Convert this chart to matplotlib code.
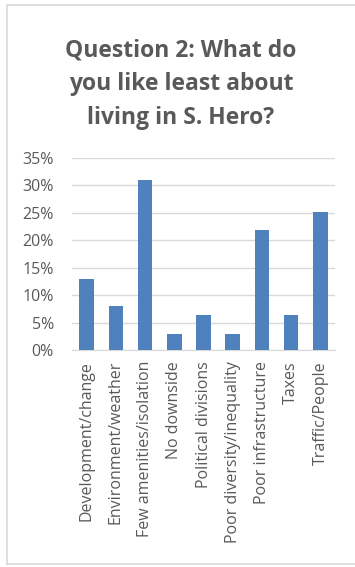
import numpy as np
import matplotlib
matplotlib.use('Agg')
from matplotlib import pyplot as plt
from matplotlib.lines import Line2D

# Survey answers (share of respondents, %)
categories = ['Development/change', 'Environment/weather', 'Few amenities/isolation',
              'No downside', 'Political divisions', 'Poor diversity/inequality',
              'Poor infrastructure', 'Taxes', 'Traffic/People']
values = [12.9, 8.1, 30.9, 3.0, 6.3, 3.0, 21.8, 6.3, 25.1]
yticks = [0, 5, 10, 15, 20, 25, 30, 35]

W, H = 355, 567
fig = plt.figure(figsize=(W/100, H/100), dpi=100)
plt.rcParams['font.family'] = ['Open Sans', 'DejaVu Sans']

# chart frame (light gray, left/top/bottom)
fc = '#d9d9d9'
fig.add_artist(Line2D([7/W, 7/W], [1-5/H, 1-564/H], color=fc, lw=1.2, transform=fig.transFigure))
fig.add_artist(Line2D([7/W, 1], [1-5/H, 1-5/H], color=fc, lw=1.2, transform=fig.transFigure))
fig.add_artist(Line2D([7/W, 1], [1-564/H, 1-564/H], color=fc, lw=1.2, transform=fig.transFigure))

ax = fig.add_axes([72/W, 1-350/H, (335-72)/W, (350-158)/H])
x = np.arange(len(categories))
ax.bar(x, values, width=0.5, color='#4f81bd', zorder=3)

ax.set_ylim(0, 35)
ax.set_xlim(-0.5, len(categories)-0.5)
ax.set_yticks(yticks)
ax.set_yticklabels(['%d%%' % v for v in yticks], color='#595959', fontsize=11.5)
ax.set_xticks(x)
ax.set_xticklabels(categories, rotation=90, color='#595959', fontsize=11.5)
ax.tick_params(axis='y', length=0, pad=13)
ax.tick_params(axis='x', length=0, pad=8)
ax.grid(axis='y', color='#d9d9d9', lw=1, zorder=0)
for s in ['top', 'right', 'left']:
    ax.spines[s].set_visible(False)
ax.spines['bottom'].set_color('#d9d9d9')

fig.text(0.5 + 7/W/2, 1-84/H, 'Question 2: What do\nyou like least about\nliving in S. Hero?',
         ha='center', va='center', fontsize=16.5, fontweight='bold', color='#595959',
         linespacing=1.55)

fig.savefig('out.png', dpi=100)
plt.close()
